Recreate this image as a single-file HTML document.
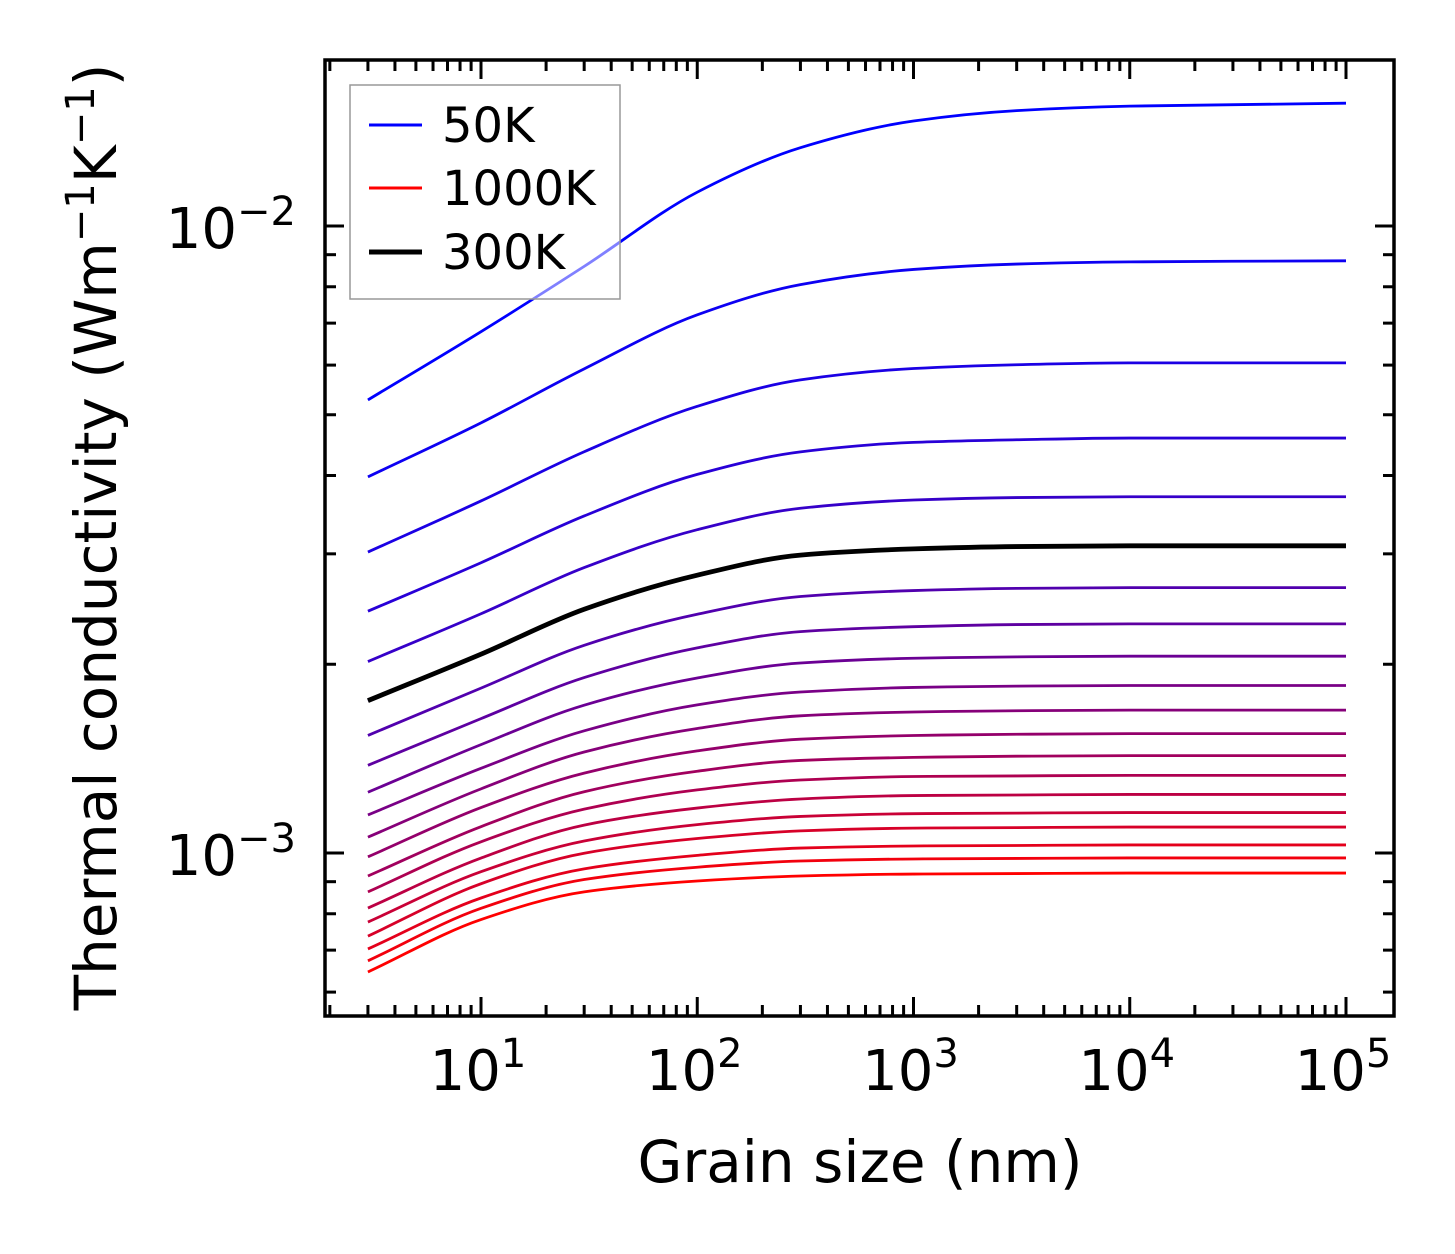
<!DOCTYPE html>
<html><head><meta charset="utf-8"><style>
html,body{margin:0;padding:0;background:#fff}
svg{display:block;font-family:"DejaVu Sans","Liberation Sans",sans-serif}
</style></head><body>
<svg id="chart" width="1455" height="1254" viewBox="0 0 1455 1254" xmlns="http://www.w3.org/2000/svg">
<g id="curves"></g>
<g id="ticks"></g>
<rect x="325" y="60" width="1069" height="956" fill="none" stroke="#000" stroke-width="3.5"/>
<g id="ticklabels"></g>
<text x="860" y="1182" font-size="58" text-anchor="middle">Grain size (nm)</text>
<text transform="translate(116,537) rotate(-90)" font-size="58" text-anchor="middle">Thermal conductivity (Wm<tspan dy="-22" font-size="40">−1</tspan><tspan dy="22">K</tspan><tspan dy="-22" font-size="40">−1</tspan><tspan dy="22">)</tspan></text>
<g>
<rect x="350" y="85" width="270" height="214" fill="#fff" fill-opacity="0.5" stroke="#999" stroke-width="1.5"/>
<line x1="369" y1="125" x2="422" y2="125" stroke="#0000ff" stroke-width="3"/>
<text x="442" y="142" font-size="48">50K</text>
<line x1="369" y1="188" x2="422" y2="188" stroke="#ff0000" stroke-width="3"/>
<text x="442" y="205" font-size="48">1000K</text>
<line x1="369" y1="252" x2="422" y2="252" stroke="#000" stroke-width="5"/>
<text x="442" y="269" font-size="48">300K</text>
</g>
</svg>
<script>
const temperatures = [50,100,150,200,250,300,350,400,450,500,550,600,650,700,750,800,850,900,950,1000];
const grainSizes = [3,10,30,100,300,1000,3000,10000,100000];
const kStart = [0.00528,0.00398,0.00302,0.00243,0.00202,0.00175,0.00154,0.00138,0.00125,0.00115,0.00106,0.000986,0.000919,0.000867,0.000817,0.000776,0.000737,0.000703,0.000673,0.000646];
const kPlateau = [0.01570,0.00880,0.00605,0.00459,0.00370,0.00309,0.00265,0.00232,0.00206,0.00185,0.00169,0.00155,0.00143,0.00133,0.00124,0.00116,0.00110,0.00103,0.000982,0.000929];
const progress = [
[0,.23,.45,.70,.85,.94,.975,.99,1],
[0,.25,.50,.75,.89,.96,.985,.995,1],
[0,.27,.53,.77,.91,.97,.99,1,1],
[0,.28,.55,.79,.92,.975,.99,1,1],
[0,.29,.57,.80,.93,.98,.995,1,1],
[0,.30,.59,.81,.94,.98,.995,1,1],
[0,.32,.61,.82,.94,.98,.995,1,1],
[0,.33,.62,.83,.945,.98,.995,1,1],
[0,.35,.64,.84,.95,.985,.995,1,1],
[0,.36,.65,.85,.95,.985,.995,1,1],
[0,.38,.67,.855,.955,.985,.995,1,1],
[0,.40,.68,.86,.955,.985,.995,1,1],
[0,.41,.70,.87,.96,.985,.995,1,1],
[0,.43,.71,.875,.96,.99,.995,1,1],
[0,.44,.73,.88,.96,.99,.995,1,1],
[0,.46,.74,.89,.965,.99,.995,1,1],
[0,.48,.76,.895,.965,.99,.995,1,1],
[0,.49,.77,.90,.97,.99,.995,1,1],
[0,.51,.79,.91,.97,.99,.995,1,1],
[0,.53,.81,.92,.97,.99,.995,1,1]];
const highlightIndex = 5;
const xTickLabels = ["1","2","3","4","5"];
const yTickLabels = ["−3","−2"];

const NS="http://www.w3.org/2000/svg";
const X0=481, XD=216.25, Y0=853, YD=627;
function xs(v){return X0+(Math.log10(v)-1)*XD;}
function ys(v){return Y0-(Math.log10(v)+3)*YD;}
function mk(tag,attrs,parent){const e=document.createElementNS(NS,tag);for(const k in attrs)e.setAttribute(k,attrs[k]);parent.appendChild(e);return e;}
// monotone cubic (Fritsch-Carlson) through pixel points
function pathFrom(pts){
  const n=pts.length, dx=[], s=[], m=[];
  for(let i=0;i<n-1;i++){dx[i]=pts[i+1][0]-pts[i][0];s[i]=(pts[i+1][1]-pts[i][1])/dx[i];}
  m[0]=s[0];m[n-1]=s[n-2];
  for(let i=1;i<n-1;i++){
    if(s[i-1]*s[i]<=0)m[i]=0;
    else{const w1=2*dx[i]+dx[i-1],w2=dx[i]+2*dx[i-1];m[i]=(w1+w2)/(w1/s[i-1]+w2/s[i]);}
  }
  let d="M"+pts[0][0].toFixed(2)+","+pts[0][1].toFixed(2);
  for(let i=0;i<n-1;i++){
    const h=dx[i]/3;
    d+="C"+(pts[i][0]+h).toFixed(2)+","+(pts[i][1]+m[i]*h).toFixed(2)+" "+(pts[i+1][0]-h).toFixed(2)+","+(pts[i+1][1]-m[i+1]*h).toFixed(2)+" "+pts[i+1][0].toFixed(2)+","+pts[i+1][1].toFixed(2);
  }
  return d;
}
const cg=document.getElementById("curves");
function curvePts(i){
  const ls=Math.log10(kStart[i]), lp=Math.log10(kPlateau[i]);
  return grainSizes.map((g,j)=>[xs(g),ys(Math.pow(10,ls+(lp-ls)*progress[i][j]))]);
}
temperatures.forEach((t,i)=>{
  const f=i/(temperatures.length-1);
  const col="rgb("+Math.round(255*f)+",0,"+Math.round(255*(1-f))+")";
  const p=mk("path",{d:pathFrom(curvePts(i)),fill:"none",stroke:col,"stroke-width":2.8},cg);
  
  
});
{
  const p=mk("path",{d:pathFrom(curvePts(highlightIndex)),fill:"none",stroke:"#000","stroke-width":4.8},cg);
  
  
}
const tg=document.getElementById("ticks");
const L=325,R=1394,T=60,B=1016;
function xt(x,len){
  const a=mk("line",{x1:x,y1:B,x2:x,y2:B-len,stroke:"#000","stroke-width":3},tg);
  
  
  const b=mk("line",{x1:x,y1:T,x2:x,y2:T+len,stroke:"#000","stroke-width":3},tg);
  
  
}
function yt(y,len){
  const a=mk("line",{x1:L,y1:y,x2:L+len,y2:y,stroke:"#000","stroke-width":3},tg);
  
  
  const b=mk("line",{x1:R,y1:y,x2:R-len,y2:y,stroke:"#000","stroke-width":3},tg);
  
  
}
for(let e=0;e<=5;e++)for(let m=1;m<10;m++){
  const v=m*Math.pow(10,e);const x=xs(v);
  if(x<L+2||x>R-2)continue;
  xt(x,m===1?19:11);
}
for(let e=-4;e<=-1;e++)for(let m=1;m<10;m++){
  const v=m*Math.pow(10,e);const y=ys(v);
  if(y<T+2||y>B-2)continue;
  yt(y,m===1?19:11);
}
const lg=document.getElementById("ticklabels");
xTickLabels.forEach(s=>{
  const x=xs(Math.pow(10,+s));
  const t=mk("text",{x:x-3,y:1090,"font-size":56,"text-anchor":"middle"},lg);
  
  
  t.innerHTML='10<tspan dy="-23" font-size="40">'+s+'</tspan>';
});
yTickLabels.forEach(s=>{
  const y=ys(Math.pow(10,-parseFloat(s.replace("−",""))));
  const t=mk("text",{x:296,y:y+22,"font-size":56,"text-anchor":"end"},lg);
  
  
  t.innerHTML='10<tspan dy="-23" font-size="40">'+s+'</tspan>';
});
</script>
</body></html>
